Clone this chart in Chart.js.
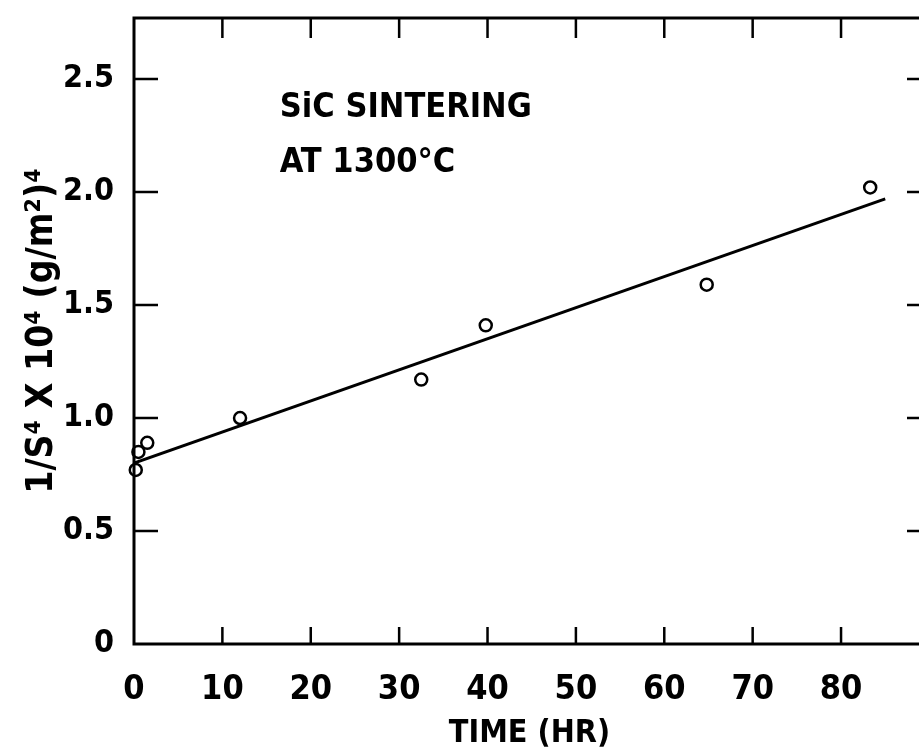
<!DOCTYPE html>
<html>
<head>
<meta charset="utf-8">
<script src="https://cdn.jsdelivr.net/npm/chart.js@4.4.0/dist/chart.umd.min.js"></script>
<style>
html, body { margin: 0; padding: 0; background: #fff; overflow: hidden; }
#wrap { width: 935px; height: 747px; }
</style>
</head>
<body>
<div id="wrap"><canvas id="chart" width="935" height="747"></canvas></div>
<script>
// measured points (time in hr, 1/S^4 x 10^4)
const timeHr = [0.2, 0.5, 1.5, 12, 32.5, 39.8, 64.8, 83.3];
const invS4  = [0.77, 0.85, 0.89, 1.0, 1.17, 1.41, 1.59, 2.02];

// fitted straight line
const fitTime = [0, 85];
const fitVal  = [0.80, 1.97];

const xTicks = [0, 10, 20, 30, 40, 50, 60, 70, 80];
const yTicks = [0, 0.5, 1.0, 1.5, 2.0, 2.5];
const yTickLabels = ["0", "0.5", "1.0", "1.5", "2.0", "2.5"];

const noteLines = ["SiC SINTERING", "AT 1300°C"];
const noteX = 16.5;
const noteY = [2.33, 2.09];

const FONT = '"DejaVu Sans Condensed", sans-serif';

const frame = {
    id: 'frame',
    afterDraw(chart) {
        const ctx = chart.ctx;
        const a = chart.chartArea;
        const x = chart.scales.x, y = chart.scales.y;
        ctx.save();
        ctx.strokeStyle = '#000';
        ctx.lineWidth = 3;
        ctx.strokeRect(a.left, a.top, a.right - a.left, a.bottom - a.top);
        ctx.lineWidth = 2.5;
        ctx.beginPath();
        xTicks.forEach(v => {
            if (v === 0) return;
            const px = x.getPixelForValue(v);
            ctx.moveTo(px, a.bottom); ctx.lineTo(px, a.bottom - 17);
            ctx.moveTo(px, a.top); ctx.lineTo(px, a.top + 20);
        });
        yTicks.forEach(v => {
            if (v === 0) return;
            const py = y.getPixelForValue(v);
            ctx.moveTo(a.left, py); ctx.lineTo(a.left + 24, py);
            ctx.moveTo(a.right, py); ctx.lineTo(a.right - 18, py);
        });
        ctx.stroke();

        ctx.fillStyle = '#000';
        ctx.font = 'bold 34px ' + FONT;
        ctx.textBaseline = 'alphabetic';
        noteLines.forEach((t, i) => {
            ctx.fillText(t, x.getPixelForValue(noteX), y.getPixelForValue(noteY[i]));
        });
        ctx.restore();
    }
};

new Chart(document.getElementById('chart'), {
    type: 'scatter',
    data: {
        datasets: [
            {
                label: 'fit',
                type: 'line',
                data: fitTime.map((t, i) => ({x: t, y: fitVal[i]})),
                borderColor: '#000',
                borderWidth: 3,
                pointRadius: 0,
                fill: false
            },
            {
                label: 'data',
                data: timeHr.map((t, i) => ({x: t, y: invS4[i]})),
                clip: false,
                pointRadius: 6,
                pointBorderWidth: 2.5,
                pointBorderColor: '#000',
                pointBackgroundColor: '#fff'
            }
        ]
    },
    options: {
        responsive: false,
        animation: false,
        layout: { padding: { top: 18, right: 10, left: 0, bottom: 0 } },
        plugins: { legend: { display: false }, tooltip: { enabled: false } },
        scales: {
            x: {
                type: 'linear',
                min: 0,
                max: 89.5,
                afterBuildTicks: s => { s.ticks = xTicks.map(v => ({value: v})); },
                afterFit: s => { s.height = 103; s.paddingLeft = 0; s.paddingRight = 0; },
                grid: { display: false, drawTicks: false },
                border: { display: false },
                ticks: {
                    color: '#000',
                    padding: 26,
                    font: { family: FONT, size: 34, weight: 'bold' }
                },
                title: {
                    display: true,
                    text: 'TIME (HR)',
                    color: '#000',
                    padding: { top: 0, bottom: -3 },
                    font: { family: FONT, size: 32, weight: 'bold', lineHeight: 1 }
                }
            },
            y: {
                type: 'linear',
                min: 0,
                max: 2.77,
                afterBuildTicks: s => { s.ticks = yTicks.map(v => ({value: v})); },
                afterFit: s => { s.width = 134; s.paddingTop = 0; s.paddingBottom = 0; },
                grid: { display: false, drawTicks: false },
                border: { display: false },
                ticks: {
                    color: '#000',
                    padding: 20,
                    font: { family: FONT, size: 32, weight: 'bold' },
                    callback: v => yTickLabels[yTicks.indexOf(v)] ?? ''
                },
                title: {
                    display: true,
                    text: '1/S⁴ X 10⁴ (g/m²)⁴',
                    color: '#000',
                    padding: { top: 24, bottom: 0 },
                    font: { family: FONT, size: 37, weight: 'bold', lineHeight: 1 }
                }
            }
        }
    },
    plugins: [frame]
});
</script>
</body>
</html>
